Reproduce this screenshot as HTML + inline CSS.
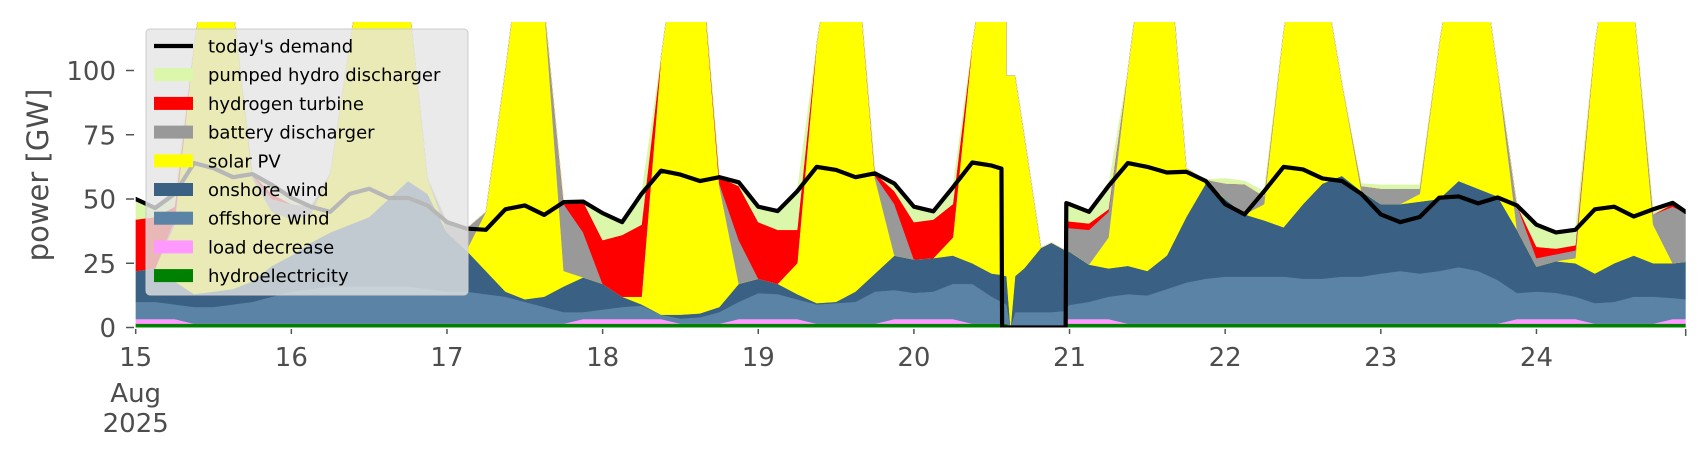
<!DOCTYPE html>
<html><head><meta charset="utf-8">
<style>
html,body{margin:0;padding:0;background:#fff;}
svg{display:block;font-family:"DejaVu Sans","Liberation Sans",sans-serif;}
</style></head>
<body>
<svg id="chart" width="1706" height="460" viewBox="0 0 1706 460" xmlns="http://www.w3.org/2000/svg">
<defs><clipPath id="plotclip"><rect x="135.7" y="22" width="1550" height="305.5"/></clipPath></defs>
<g id="areas" clip-path="url(#plotclip)"></g>
<g id="axes"></g>
<g id="legend"></g>
</svg>
<script>
const hours = [0,3,6,9,12,15,18,21,24,27,30,33,36,39,42,45,48,51,54,57,60,63,66,69,72,75,78,81,84,87,90,93,96,99,102,105,108,111,114,117,120,123,126,129,132,133.5,133.6,134.2,134.3,134.9,135.6,137,139.6,141.2,143.4,143.5,144,147,150,153,156,159,162,165,168,171,174,177,180,183,186,189,192,195,198,201,204,207,210,213,216,219,222,225,228,231,234,237,239];
const hydro = [1.5,1.5,1.5,1.5,1.5,1.5,1.5,1.5,1.5,1.5,1.5,1.5,1.5,1.5,1.5,1.5,1.5,1.5,1.5,1.5,1.5,1.5,1.5,1.5,1.5,1.5,1.5,1.5,1.5,1.5,1.5,1.5,1.5,1.5,1.5,1.5,1.5,1.5,1.5,1.5,1.5,1.5,1.5,1.5,1.5,1.5,1.5,1.5,1.5,0,0,0,0,0,0,1.5,1.5,1.5,1.5,1.5,1.5,1.5,1.5,1.5,1.5,1.5,1.5,1.5,1.5,1.5,1.5,1.5,1.5,1.5,1.5,1.5,1.5,1.5,1.5,1.5,1.5,1.5,1.5,1.5,1.5,1.5,1.5,1.5,1.5];
const loadDecrease = [1.8,1.8,1.8,0,0,0,0,0,0,0,0,0,0,0,0,0,0,0,0,0,0,0,0,1.8,1.8,1.8,1.8,1.8,0,0,0,1.8,1.8,1.8,1.8,0,0,0,0,1.8,1.8,1.8,1.8,0,0,0,0,0,0,0,0,0,0,0,0,1.8,1.8,1.8,1.8,0,0,0,0,0,0,0,0,0,0,0,0,0,0,0,0,0,0,0,0,1.8,1.8,1.8,1.8,0,0,0,0,1.8,1.8];
const offshore = [6.7,6.7,5.7,6.5,6.5,7.5,8.5,10.5,12.5,13.5,14.5,14.5,14.5,14.5,14.5,13.5,12.5,12.5,11.5,10.5,8.5,6.5,4.5,2.7,3.7,4.7,5.2,1.7,2,2.5,4.5,6.7,10.1,9.7,7.7,7.5,8,8.5,12.5,11.3,10.2,10.7,13.7,15.5,10.5,8.5,8.5,7.5,7.5,0,6,6,6,6,6.5,4.7,5.5,6.7,8.7,11.5,11,13.5,16,17.5,18.3,18.3,18.3,18.3,17.5,17.5,18.3,18.3,19.5,20.5,19.5,20.5,22,20.5,17,10.1,10.7,10.2,8.7,8,8.5,10.5,10.5,8.2,7.7];
const onshore = [12,13,9,5,6,6,8,12,14,18,21,24,27,34,41,37,23,16,9,2,1,4,10,13.5,10,4,0.5,0,1.5,1.5,2,7,5.6,4,2,0.5,0.5,4,7,13.4,13,13,11,8,9,10.5,10.5,11,11,0,14,17,25,27,23.5,22,20.7,14.5,11,11,9.5,13,25.5,37,30.2,24.2,21.9,19.2,29,37,39.2,33.2,27,26,28,28,33.5,32,32.5,24.6,9.7,12.3,13,11.5,15,16,13,13.5,14.6];
const solar = [0,0,22,97,146,110,40,21,14,11,23,70,117,110,73,6,0,0,23,86,149,113,6,0,0,0,3,100,155,144.5,47,0,0,0,12,100.5,150,136,37,0,0,0,7,85,139,139.5,139.5,140,78,98,78,52,0,0,0,0,0,0,12,76,138,132,19,1,0,0,6.3,76,112,84,36,0,0,0,3,60,100,100,49,0,0,0,2,89,135,97,15,0,0];
const battery = [0,0,2,0,0,0,1,5,6,3,0,0,0,0,0,0,4,8.5,0,0,0,0,26,17.5,0,0,0,0,0,0,1,17,0,0,0,0,0,0,1,20,0,0,0,0,0,0,0,0,0,0,0,0,0,0,0,8.7,9.2,13.5,10,0,0,0,0,0.5,6,11.7,3,0,0,0,0,2,6,6,2,0,0,0,0,9.5,3.3,2.7,3,0,0,0,4,22,19];
const hydrogen = [20,20,5,0,0,0,0.7,2,0,0,0,0,0,0,0,0,0,0,0,0,0,0,0.8,12,17,24,28,0,0,0,2.5,21,22,21,13,0,0,0,1,5,14.5,15,13,0,0,0,0,0,0,0,0,0,0,0,0,2.6,2.6,2.5,1,0,0,0,0,0,0,0,0,0,0,0,0,0,0,0,0,0,0,0,0,0,4.4,2.2,2,0,0,0,0,1,0];
const pumpedHydro = [8,3.5,5,0,0,0,0,3.5,2.5,0,0,0,0,0,0,0,0,0,0,0,0,0,0,0,10.5,5,12,0,0,0,0,1.5,6,7.3,15,0,0,0,0,3,6,3.2,6.5,0,0,0,0,0,0,0,0,0,0,0,0,7.1,6.7,4.5,9,0,0,0,0,0,2,1.3,2,0,0,0,0,1,1.5,1.5,1.5,0,0,0,0,0,8.6,6.3,6,0,0,0,2,0.5,0.4];
const demand = [50,46.5,52,64,62,58.5,59.7,55.5,50.5,47,45,52,54,50.4,50.4,47.5,41,38.5,38,46,47.5,43.8,48.8,49,44.5,41,52,61,59.5,57,58.5,56.5,47,45.3,53,62.5,61.3,58.5,60,56,47,45.2,54.5,64.2,63,61.8,0,0,0,0,0,0,0,0,0,48.4,48,45,55,64,62.5,60.3,60.6,57,48,44,53,62.5,61.5,58,57,52,44,41,43,50.5,51,48.3,50.6,47.5,40,37,38,46,47,43.2,46,48.5,45];
const yTicks = [0,25,50,75,100];
const dayLabels = ["15","16","17","18","19","20","21","22","23","24"];

const NS = "http://www.w3.org/2000/svg";
const X0 = 135.7, PXH = 6.485, Y0 = 327.5, PXV = 2.57;
function xs(h){ return X0 + h*PXH; }
function ys(v){ return Y0 - v*PXV; }
function mk(tag, attrs, parent){
  const e = document.createElementNS(NS, tag);
  for (const k in attrs) e.setAttribute(k, attrs[k]);
  parent.appendChild(e); return e;
}
const series = [
  {vals: hydro, color:"#008000", name:"area-hydroelectricity"},
  {vals: loadDecrease, color:"#ff99ff", name:"area-load-decrease"},
  {vals: offshore, color:"#5b83a5", name:"area-offshore-wind"},
  {vals: onshore, color:"#3a6183", name:"area-onshore-wind"},
  {vals: solar, color:"#ffff00", name:"area-solar-pv"},
  {vals: battery, color:"#999999", name:"area-battery-discharger"},
  {vals: hydrogen, color:"#ff0000", name:"area-hydrogen-turbine"},
  {vals: pumpedHydro, color:"#dbf7a9", name:"area-pumped-hydro"}
];
const areas = document.getElementById("areas");
let base = hours.map(()=>0);
series.forEach(s=>{
  const top = base.map((b,i)=>b + s.vals[i]);
  let d = "M" + hours.map((h,i)=>xs(h).toFixed(2)+","+ys(top[i]).toFixed(2)).join(" L");
  for (let i=hours.length-1;i>=0;i--) d += " L"+xs(hours[i]).toFixed(2)+","+ys(base[i]).toFixed(2);
  d += " Z";
  const p = mk("path",{d:d, fill:s.color, stroke:s.color, "stroke-width":"0.5"}, areas);
  
  
  base = top;
});
const dl = mk("path",{d:"M"+hours.map((h,i)=>xs(h).toFixed(2)+","+ys(demand[i]).toFixed(2)).join(" L"), fill:"none", stroke:"#000", "stroke-width":"4.2", "stroke-linejoin":"round", "stroke-linecap":"round"}, areas);



const axes = document.getElementById("axes");
yTicks.forEach(v=>{
  const t = mk("line",{x1:126,x2:134,y1:ys(v),y2:ys(v),stroke:"#555","stroke-width":"1.5"},axes);
  
  
  const l = mk("text",{x:116,y:ys(v)+9.5,"text-anchor":"end","font-size":"26",fill:"#4d4d4d"},axes);
  l.textContent = v;
  
  
});
dayLabels.forEach((d,i)=>{
  const x = xs(i*24);
  const t = mk("line",{x1:x,x2:x,y1:329,y2:334,stroke:"#555","stroke-width":"1.5"},axes);
  
  
  const l = mk("text",{x:x,y:366,"text-anchor":"middle","font-size":"26",fill:"#4d4d4d"},axes);
  l.textContent = d;
  
  
});
const endTick = mk("line",{x1:1685.7,x2:1685.7,y1:329,y2:336,stroke:"#555","stroke-width":"1.5"},axes);


const m1 = mk("text",{x:xs(0),y:402,"text-anchor":"middle","font-size":"26",fill:"#4d4d4d"},axes);
m1.textContent = "Aug";


const m2 = mk("text",{x:xs(0),y:432,"text-anchor":"middle","font-size":"26",fill:"#4d4d4d"},axes);
m2.textContent = "2025";


const yl = mk("text",{x:0,y:0,"text-anchor":"middle","font-size":"29",fill:"#4d4d4d",transform:"translate(48,175) rotate(-90)"},axes);
yl.textContent = "power [GW]";



const legendItems = [
  {label:"today's demand", color:"#000", line:true},
  {label:"pumped hydro discharger", color:"#dbf7a9"},
  {label:"hydrogen turbine", color:"#ff0000"},
  {label:"battery discharger", color:"#999999"},
  {label:"solar PV", color:"#ffff00"},
  {label:"onshore wind", color:"#3a6183"},
  {label:"offshore wind", color:"#5b83a5"},
  {label:"load decrease", color:"#ff99ff"},
  {label:"hydroelectricity", color:"#008000"}
];
const lg = document.getElementById("legend");
const box = mk("rect",{x:146,y:29,width:322,height:266,rx:4,fill:"rgba(229,229,229,0.8)",stroke:"#cccccc","stroke-width":"1"},lg);


legendItems.forEach((it,i)=>{
  const y = 46 + i*28.7;
  const g = mk("g",{},lg);
  
  
  if (it.line) mk("line",{x1:154,x2:193,y1:y,y2:y,stroke:"#000","stroke-width":"4.2"},g);
  else mk("rect",{x:154,y:y-6.5,width:39,height:13,fill:it.color},g);
  const t = mk("text",{x:208,y:y+6.5,"font-size":"18",fill:"#000"},g);
  t.textContent = it.label;
});
</script>
</body></html>
